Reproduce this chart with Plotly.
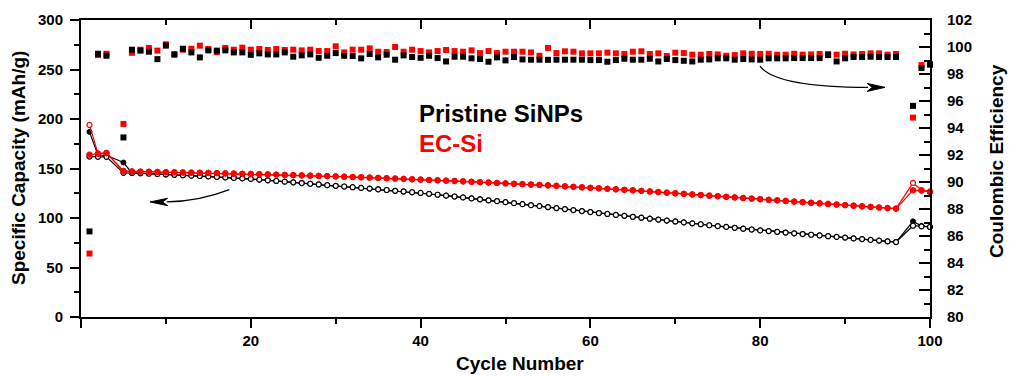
import plotly.graph_objects as go

# ---------------- data ----------------
cycles = [1, 2, 3] + list(range(5, 97)) + [98, 99, 100]

# capacity (mAh/g), cycles 6..96 - filled and open markers coincide there
red_mid = [147.0, 146.8, 146.7, 146.5, 146.3, 146.2, 146.0, 145.8, 145.7, 145.5,
           145.3, 145.1, 144.9, 144.7, 144.5, 144.3, 144.0, 143.8, 143.5, 143.3,
           143.0, 142.8, 142.5, 142.3, 142.0, 141.7, 141.4, 141.1, 140.8, 140.5,
           140.2, 139.8, 139.5, 139.1, 138.8, 138.4, 138.1, 137.7, 137.4, 137.0,
           136.6, 136.2, 135.8, 135.4, 135.0, 134.6, 134.2, 133.8, 133.4, 133.0,
           132.5, 132.0, 131.5, 131.0, 130.5, 130.0, 129.5, 129.0, 128.5, 128.0,
           127.4, 126.8, 126.2, 125.6, 125.0, 124.4, 123.8, 123.2, 122.6, 122.0,
           121.4, 120.8, 120.2, 119.6, 119.0, 118.4, 117.8, 117.2, 116.6, 116.0,
           115.4, 114.8, 114.2, 113.6, 113.0, 112.4, 111.8, 111.2, 110.6, 110.0, 109.5]
black_mid = [145.5, 145.2, 144.8, 144.4, 144.0, 143.6, 143.2, 142.8, 142.4, 142.0,
             141.5, 141.0, 140.5, 140.0, 139.5, 138.8, 138.1, 137.4, 136.7, 136.0,
             135.3, 134.6, 133.9, 133.2, 132.5, 131.8, 131.1, 130.4, 129.7, 129.0,
             128.3, 127.5, 126.8, 126.0, 125.3, 124.4, 123.5, 122.6, 121.7, 120.8,
             119.8, 118.9, 117.9, 117.0, 116.0, 115.0, 114.0, 113.0, 112.0, 111.0,
             110.0, 109.0, 108.0, 107.0, 106.0, 105.0, 104.1, 103.1, 102.2, 101.2,
             100.3, 99.3, 98.4, 97.4, 96.5, 95.6, 94.6, 93.7, 92.7, 91.8,
             91.0, 90.1, 89.2, 88.4, 87.5, 86.8, 86.0, 85.3, 84.5, 83.8,
             83.1, 82.4, 81.6, 80.9, 80.2, 79.4, 78.7, 77.9, 77.2, 76.4, 75.7]

red_filled = [164.0, 165.0, 165.8, 147.6] + red_mid + [128.0, 127.6, 126.3]
red_open = [194.0, 165.0, 165.5, 147.3] + red_mid + [135.4, 128.3, 126.8]
black_filled = [187.0, 163.4, 163.4, 156.0] + black_mid + [96.6, 92.0, 91.0]
black_open = [162.0, 161.8, 161.8, 145.6] + black_mid + [92.2, 91.5, 90.9]

# coulombic efficiency (%)
black_ce = [86.34, 99.50, 99.35, 93.30,
            99.80, 99.73, 99.65, 99.10, 100.10, 99.43, 99.87, 99.60, 99.23, 99.75, 99.73, 99.75, 99.60, 99.60, 99.42,
            99.53, 99.45, 99.45, 99.60, 99.28, 99.38, 99.45, 99.20, 99.35, 99.55, 99.35, 99.33, 99.16, 99.48, 99.23,
            99.43, 99.06, 99.38, 99.26, 99.20,
            99.35, 99.18, 98.93, 99.28, 99.28, 99.16, 99.11, 98.91, 99.23, 99.01, 99.26, 99.08, 99.06, 99.06, 99.05,
            99.06, 99.06, 99.06, 99.06, 99.03,
            99.03, 98.91, 99.03, 99.13, 99.06, 99.06, 99.13, 98.93, 99.11, 99.03, 98.98, 98.93, 99.06, 99.08, 99.16,
            99.16, 99.06, 99.11, 99.08, 99.06,
            99.16, 99.16, 99.16, 99.18, 99.18, 99.18, 99.18, 99.40, 98.93, 99.16, 99.26, 99.26, 99.28, 99.26, 99.26,
            99.26,
            95.64, 98.44, 98.69]
red_ce = [84.70, 99.40, 99.50, 94.30,
          99.57, 99.80, 99.93, 99.73, 100.20, 99.48, 99.80, 99.87, 100.10, 99.85, 99.63, 99.93, 99.80, 99.95, 99.80,
          99.85, 99.78, 99.85, 99.78, 99.80, 99.75, 99.80, 99.70, 99.70, 100.05, 99.60, 99.80, 99.80, 99.90, 99.65,
          99.63, 100.00, 99.65, 99.80, 99.70,
          99.60, 99.70, 99.78, 99.70, 99.65, 99.75, 99.55, 99.70, 99.55, 99.65, 99.65, 99.65, 99.60, 99.35, 99.93,
          99.55, 99.68, 99.65, 99.53, 99.53,
          99.53, 99.58, 99.53, 99.48, 99.65, 99.68, 99.48, 99.53, 99.33, 99.58, 99.55, 99.43, 99.43, 99.48, 99.45,
          99.35, 99.40, 99.53, 99.50, 99.48,
          99.50, 99.43, 99.43, 99.50, 99.43, 99.45, 99.48, 99.48, 99.43, 99.50, 99.45, 99.48, 99.53, 99.53, 99.43,
          99.48,
          94.77, 98.66, 98.74]

x_tickvals = [0, 20, 40, 60, 80, 100]
x_ticktext = ["", "20", "40", "60", "80", "100"]

# ---------------- figure ----------------
RED = "#FF0000"
BLACK = "#000000"
FONT = "Liberation Sans, Arial, sans-serif"

fig = go.Figure()

fig.add_trace(go.Scatter(x=cycles, y=red_ce, mode="markers", yaxis="y2", name="EC-Si CE",
                         marker=dict(symbol="square", size=6, color=RED, line=dict(width=0)),
                         cliponaxis=False))
fig.add_trace(go.Scatter(x=cycles, y=black_ce, mode="markers", yaxis="y2", name="SiNPs CE",
                         marker=dict(symbol="square", size=6, color=BLACK, line=dict(width=0)),
                         cliponaxis=False))
fig.add_trace(go.Scatter(x=cycles, y=black_filled, mode="lines+markers", name="SiNPs filled",
                         line=dict(color=BLACK, width=1.2),
                         marker=dict(symbol="circle", size=5, color=BLACK, line=dict(color=BLACK, width=1)),
                         cliponaxis=False))
fig.add_trace(go.Scatter(x=cycles, y=black_open, mode="lines+markers", name="SiNPs open",
                         line=dict(color=BLACK, width=1.2),
                         marker=dict(symbol="circle", size=5, color="white", line=dict(color=BLACK, width=1.2)),
                         cliponaxis=False))
fig.add_trace(go.Scatter(x=cycles, y=red_open, mode="lines+markers", name="EC-Si open",
                         line=dict(color=RED, width=1.2),
                         marker=dict(symbol="circle", size=5, color="white", line=dict(color=RED, width=1.2)),
                         cliponaxis=False))
fig.add_trace(go.Scatter(x=cycles, y=red_filled, mode="lines+markers", name="EC-Si filled",
                         line=dict(color=RED, width=1.2),
                         marker=dict(symbol="circle", size=5.5, color=RED, line=dict(color=RED, width=1)),
                         cliponaxis=False))
# invisible trace so the top mirror axis is drawn
fig.add_trace(go.Scatter(x=[0, 100], y=[0, 0], xaxis="x2", mode="markers",
                         marker=dict(opacity=0), hoverinfo="skip", showlegend=False))

tickfont = dict(family=FONT, size=15, color=BLACK, weight="bold")
titlefont = dict(family=FONT, size=19, color=BLACK, weight="bold")

fig.update_layout(
    template="none",
    width=1009, height=376,
    margin=dict(l=81, r=79, t=20, b=59, autoexpand=False),
    paper_bgcolor="white", plot_bgcolor="white",
    showlegend=False,
    xaxis=dict(range=[0, 100], tickvals=x_tickvals, ticktext=x_ticktext,
               ticks="outside", ticklen=9, tickwidth=1.5, tickcolor=BLACK,
               minor=dict(tickvals=[10, 30, 50, 70, 90], ticks="outside", ticklen=5, tickwidth=1.5, tickcolor=BLACK),
               showline=True, linewidth=2, linecolor=BLACK, showgrid=False, zeroline=False,
               tickfont=tickfont, automargin=False),
    xaxis2=dict(range=[0, 100], overlaying="x", side="top", tickvals=x_tickvals,
                ticks="inside", ticklen=9, tickwidth=1.5, tickcolor=BLACK,
                minor=dict(tickvals=[10, 30, 50, 70, 90], ticks="inside", ticklen=5, tickwidth=1.5, tickcolor=BLACK),
                showticklabels=False, showline=True, linewidth=2, linecolor=BLACK,
                showgrid=False, zeroline=False, automargin=False),
    yaxis=dict(range=[0, 300], tick0=0, dtick=50,
               ticks="outside", ticklen=9, tickwidth=1.5, tickcolor=BLACK,
               minor=dict(dtick=25, ticks="outside", ticklen=5, tickwidth=1.5, tickcolor=BLACK),
               showline=True, linewidth=2, linecolor=BLACK, showgrid=False, zeroline=False,
               tickfont=tickfont, ticklabelstandoff=4, automargin=False),
    yaxis2=dict(range=[80, 102], tick0=80, dtick=2, overlaying="y", side="right",
                ticks="inside", ticklen=11, tickwidth=1.5, tickcolor=BLACK,
                minor=dict(dtick=1, ticks="inside", ticklen=6, tickwidth=1.5, tickcolor=BLACK),
                showline=True, linewidth=2, linecolor=BLACK, showgrid=False, zeroline=False,
                tickfont=tickfont, ticklabelstandoff=12, automargin=False),
)

# axis titles
fig.add_annotation(text="Specific Capacity (mAh/g)", xref="paper", yref="paper",
                   x=(18 - 81) / 849, y=(317 - 168) / 297, textangle=-90, showarrow=False,
                   xanchor="center", yanchor="middle", font=titlefont)
fig.add_annotation(text="Coulombic Efficiency", xref="paper", yref="paper",
                   x=(997 - 81) / 849, y=(317 - 161) / 297, textangle=-90, showarrow=False,
                   xanchor="center", yanchor="middle", font=titlefont)
fig.add_annotation(text="Cycle Number", xref="paper", yref="paper",
                   x=(520 - 81) / 849, y=(317 - 363) / 297, showarrow=False,
                   xanchor="center", yanchor="middle", font=titlefont)

# sample labels
fig.add_annotation(text="Pristine SiNPs", x=39.6, y=205.7, xref="x", yref="y", showarrow=False,
                   xanchor="left", yanchor="middle", font=dict(family=FONT, size=24, color=BLACK, weight="bold"))
fig.add_annotation(text="EC-Si", x=39.6, y=175.3, xref="x", yref="y", showarrow=False,
                   xanchor="left", yanchor="middle", font=dict(family=FONT, size=24, color=RED, weight="bold"))

# curved arrows
fig.add_shape(type="path", xref="x", yref="y", path="M 17.47,128.67 Q 14.0,117.0 10.1,116.2",
              line=dict(color=BLACK, width=1.3))
fig.add_shape(type="path", xref="x", yref="y", path="M 8.13,116.2 L 10.2,119.9 L 9.6,116.2 L 10.2,112.5 Z",
              fillcolor=BLACK, line=dict(color=BLACK, width=1))
fig.add_shape(type="path", xref="x", yref="y2", path="M 79.98,98.59 Q 81.74,97.03 92.7,97.01",
              line=dict(color=BLACK, width=1.3))
fig.add_shape(type="path", xref="x", yref="y2", path="M 94.70,97.01 L 92.60,97.30 L 93.2,97.01 L 92.60,96.71 Z",
              fillcolor=BLACK, line=dict(color=BLACK, width=1))

fig.write_html("out.html")
